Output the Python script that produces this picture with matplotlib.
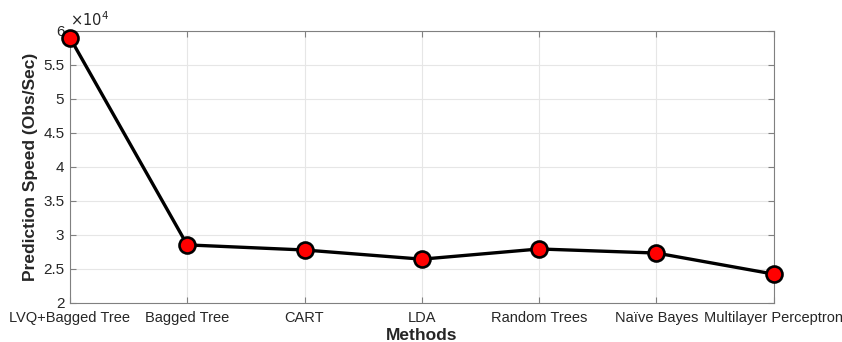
import numpy as np
import matplotlib.pyplot as plt
from matplotlib.ticker import FuncFormatter

methods = ['LVQ+Bagged Tree', 'Bagged Tree', 'CART', 'LDA',
           'Random Trees', 'Naïve Bayes', 'Multilayer Perceptron']
speed = [59000, 28500, 27750, 26400, 27900, 27300, 24200]  # obs/sec
yticks = [20000, 25000, 30000, 35000, 40000, 45000, 50000, 55000, 60000]

plt.rcParams['font.family'] = ['Liberation Sans', 'DejaVu Sans']
plt.rcParams['font.size'] = 10.5

fig = plt.figure(figsize=(8.42, 3.42), dpi=100)
ax = fig.add_axes([0.083, 0.115, 0.836, 0.795])

x = np.arange(len(methods))
ax.plot(x, speed, color='black', linewidth=2.4, marker='o', markersize=11.5,
        markerfacecolor='red', markeredgecolor='black', markeredgewidth=1.9,
        zorder=3, clip_on=False)

ax.set_xlim(0, len(methods) - 1)
ax.set_ylim(20000, 60000)
ax.set_xticks(x)
ax.set_xticklabels(methods)
ax.set_yticks(yticks)
ax.yaxis.set_major_formatter(FuncFormatter(lambda v, p: f'{v / 1e4:g}'))
ax.tick_params(axis='both', direction='in', top=True, right=True, length=4,
               color='#808080', labelcolor='#262626')
ax.tick_params(axis='x', pad=6)
ax.tick_params(axis='y', pad=4, labelsize=11)

for s in ax.spines.values():
    s.set_color('#808080')
    s.set_linewidth(0.8)

ax.grid(True, color='#e6e6e6', linewidth=0.8)
ax.set_axisbelow(True)

# exponent label above the y axis
ax.text(0.0, 1.005, r'$\times10^{4}$', transform=ax.transAxes,
        ha='left', va='bottom', fontsize=10.5, color='#262626')

ax.set_xlabel('Methods', fontweight='bold', fontsize=12.5, labelpad=2.5,
              color='#262626')
ax.set_ylabel('Prediction Speed (Obs/Sec)', fontweight='bold', fontsize=12.5,
              labelpad=4, color='#262626')

fig.savefig('out.png', dpi=100)
